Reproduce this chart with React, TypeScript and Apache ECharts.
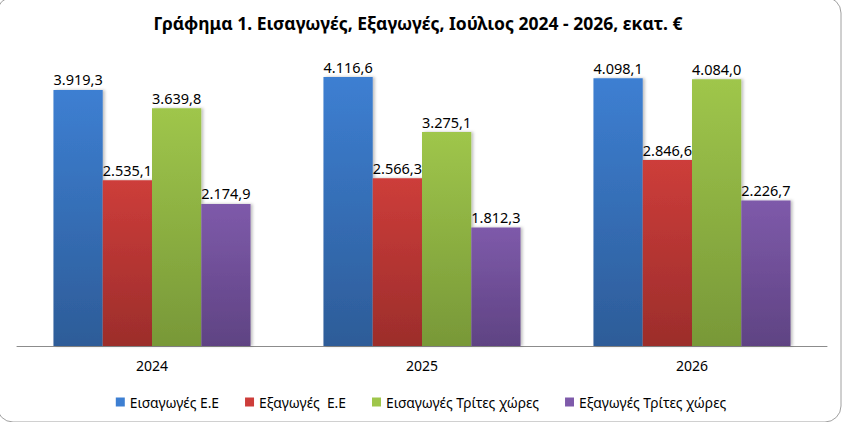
import React, { useEffect, useRef } from "react";
import * as echarts from "echarts";

const categories = ["2024", "2025", "2026"];
const seriesNames = [
  "Εισαγωγές Ε.Ε",
  "Εξαγωγές  Ε.Ε",
  "Εισαγωγές Τρίτες χώρες",
  "Εξαγωγές Τρίτες χώρες",
];
const importsEU = [3919.3, 4116.6, 4098.1];
const exportsEU = [2535.1, 2566.3, 2846.6];
const importsThird = [3639.8, 3275.1, 4084.0];
const exportsThird = [2174.9, 1812.3, 2226.7];
const titleText = "Γράφημα 1. Εισαγωγές, Εξαγωγές, Ιούλιος 2024 - 2026, εκατ. €";

const colorPairs: [string, string][] = [
  ["#3d7fd2", "#2d5c98"],
  ["#cd3d3a", "#9c2d2b"],
  ["#9fc64b", "#789838"],
  ["#7e5aaa", "#5f4383"],
];

const FONT = "'Noto Sans', 'Open Sans', sans-serif";

function fmt(v: number): string {
  const parts = v.toFixed(1).split(".");
  const int = parts[0].replace(/\B(?=(\d{3})+(?!\d))/g, ".");
  return int + "," + parts[1];
}

export default function App() {
  const ref = useRef<HTMLDivElement>(null);
  useEffect(() => {
    document.body.style.margin = "0";
    const chart = echarts.init(ref.current!, null, { renderer: "svg" });
    const data = [importsEU, exportsEU, importsThird, exportsThird];
    chart.setOption({
      animation: false,
      backgroundColor: "#ffffff",
      textStyle: { fontFamily: FONT },
      title: {
        text: titleText,
        left: 413,
        textAlign: "center",
        top: 9,
        textStyle: { fontSize: 17.5, fontWeight: "bold", color: "#000", fontFamily: FONT },
      },
      graphic: [
        {
          type: "rect",
          shape: { x: -3, y: -3, width: 844, height: 425, r: 16 },
          style: { fill: "none", stroke: "#a0a0a0", lineWidth: 1 },
          silent: true,
          z: -1,
        },
      ],
      legend: {
        bottom: 8,
        left: "center",
        itemWidth: 9,
        itemHeight: 9,
        itemGap: 26,
        icon: "rect",
        textStyle: { fontSize: 13.8, color: "#000", fontFamily: FONT },
        data: seriesNames.map((n, i) => ({ name: n, itemStyle: { color: colorPairs[i][0] } })),
      },
      grid: { left: 17, right: 15, top: 52, bottom: 76 },
      xAxis: {
        type: "category",
        data: categories,
        axisLine: { lineStyle: { color: "#8c8c8c", width: 1 } },
        axisTick: { show: false },
        axisLabel: { fontSize: 14, color: "#000", margin: 12, fontFamily: FONT },
      },
      yAxis: {
        type: "value",
        min: 0,
        max: 4500,
        show: false,
        splitLine: { show: false },
      },
      series: data.map((d, i) => ({
        name: seriesNames[i],
        type: "bar",
        data: d,
        barGap: "0%",
        barCategoryGap: "27%",
        itemStyle: {
          color: new echarts.graphic.LinearGradient(0, 0, 0, 1, [
            { offset: 0, color: colorPairs[i][0] },
            { offset: 1, color: colorPairs[i][1] },
          ]),
          shadowColor: "rgba(0,0,0,0.25)",
          shadowBlur: 3,
          shadowOffsetX: 2,
        },
        label: {
          show: true,
          position: "top",
          distance: 3,
          fontSize: 14.5,
          color: "#000",
          fontFamily: FONT,
          formatter: (p: any) => fmt(p.value),
        },
      })),
    });
    return () => chart.dispose();
  }, []);
  return <div ref={ref} style={{ width: 842, height: 422, position: "absolute", left: 0, top: 0 }} />;
}
